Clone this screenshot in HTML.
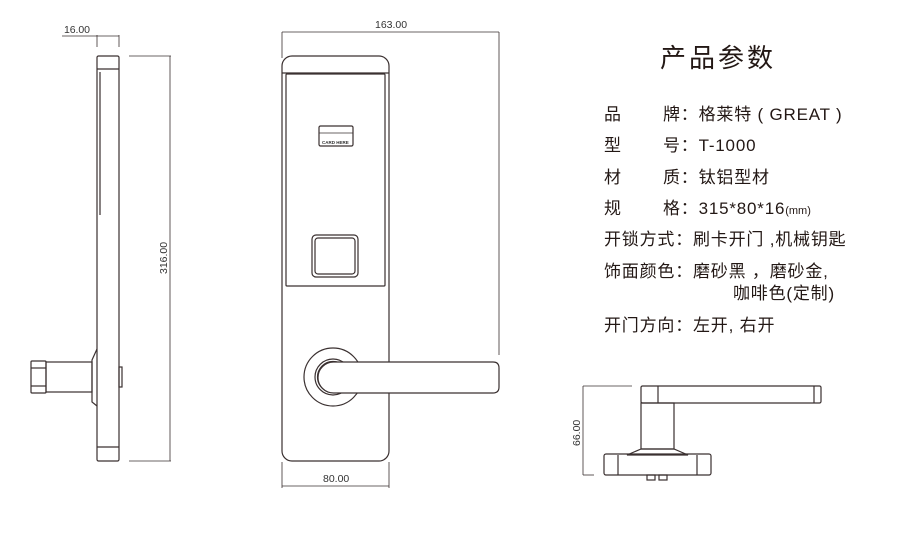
<!DOCTYPE html>
<html><head><meta charset="utf-8"><style>
html,body{margin:0;padding:0;background:#fff;}
.wrap{position:relative;width:900px;height:544px;overflow:hidden;}
svg{position:absolute;left:0;top:0;}
.t{position:absolute;font-family:"Liberation Sans","Noto Sans CJK SC",sans-serif;color:#231815;white-space:nowrap;}
.r{font-size:17px;line-height:20px;letter-spacing:0.8px;}
</style></head><body><div class="wrap">
<svg width="900" height="544" viewBox="0 0 900 544" fill="none" stroke="#3a3030" stroke-width="1.2">
<g>
<line x1="62" y1="36" x2="119" y2="36" stroke-width="0.8"/>
<line x1="97" y1="35" x2="97" y2="47" stroke-width="0.8"/>
<line x1="119" y1="35" x2="119" y2="47" stroke-width="0.8"/>
<text x="64" y="33" font-family="Liberation Sans" font-size="10.5" fill="#333" stroke="none" textLength="26">16.00</text>
<rect x="97" y="56" width="22" height="405" rx="1.5"/>
<line x1="97" y1="69" x2="119" y2="69"/>
<line x1="97" y1="447" x2="119" y2="447"/>
<line x1="100" y1="72" x2="100" y2="215"/>
<line x1="129" y1="56" x2="171" y2="56" stroke-width="0.8"/>
<line x1="129" y1="461" x2="171" y2="461" stroke-width="0.8"/>
<line x1="170" y1="56" x2="170" y2="461" stroke-width="0.8"/>
<text transform="translate(167,274) rotate(-90)" font-family="Liberation Sans" font-size="10.5" fill="#333" stroke="none">316.00</text>
<path d="M97 349 L92 360 L92 402 L97 406"/>
<rect x="46" y="362" width="46" height="30"/>
<rect x="31" y="361" width="15" height="32" rx="1"/>
<line x1="31" y1="368" x2="46" y2="368"/>
<line x1="31" y1="386" x2="46" y2="386"/>
<rect x="119" y="367" width="3" height="20"/>
</g>
<g>
<line x1="282" y1="32" x2="499" y2="32" stroke-width="0.8"/>
<line x1="282" y1="32" x2="282" y2="58" stroke-width="0.8"/>
<line x1="499" y1="32" x2="499" y2="355" stroke-width="0.8"/>
<text x="375" y="28" font-family="Liberation Sans" font-size="10.5" fill="#333" stroke="none">163.00</text>
<rect x="282" y="56" width="107" height="405" rx="10"/>
<line x1="282" y1="73" x2="389" y2="73"/>
<rect x="286" y="74" width="99" height="212" rx="1"/>
<rect x="319" y="126" width="34" height="20" rx="1.5"/>
<line x1="319" y1="133" x2="353" y2="133" stroke-width="0.8"/>
<text x="322" y="144" font-family="Liberation Sans" font-size="4.5" font-weight="bold" fill="#333" stroke="none">CARD HERE</text>
<rect x="312" y="235" width="46" height="42" rx="4"/>
<rect x="315" y="238" width="40" height="36" rx="3"/>
<circle cx="333" cy="377" r="29"/>
<circle cx="333" cy="377" r="18"/>
<circle cx="333" cy="377" r="15.5"/>
<path d="M333.5 362 L493 362 Q499 362 499 368 L499 387 Q499 393 493 393 L333.5 393 A15.5 15.5 0 0 1 333.5 362 Z" fill="#fff"/>
<line x1="282" y1="486" x2="389" y2="486" stroke-width="0.8"/>
<line x1="282" y1="462" x2="282" y2="488" stroke-width="0.8"/>
<line x1="389" y1="462" x2="389" y2="488" stroke-width="0.8"/>
<text x="323" y="482" font-family="Liberation Sans" font-size="10.5" fill="#333" stroke="none">80.00</text>
</g>
<g>
<line x1="583" y1="386" x2="583" y2="475" stroke-width="0.8"/>
<line x1="583" y1="386" x2="632" y2="386" stroke-width="0.8"/>
<line x1="583" y1="475" x2="594" y2="475" stroke-width="0.8"/>
<text transform="translate(580,446) rotate(-90)" font-family="Liberation Sans" font-size="10.5" fill="#333" stroke="none">66.00</text>
<rect x="641" y="386" width="180" height="17" rx="1.5"/>
<line x1="658" y1="386" x2="658" y2="403"/>
<line x1="814" y1="386" x2="814" y2="403"/>
<rect x="641" y="403" width="33" height="46"/>
<path d="M641 449 L627 455 L688 455 L674 449 Z"/>
<rect x="604" y="454" width="107" height="21" rx="2"/>
<line x1="618" y1="455" x2="618" y2="475"/>
<line x1="697" y1="455" x2="697" y2="475"/>
<rect x="647" y="475" width="8" height="5"/>
<rect x="659" y="475" width="8" height="5"/>
</g>
</svg>
<div class="t" style="left:660px;top:38px;font-size:26px;letter-spacing:3px;">产品参数</div>
<div class="t r" style="left:604px;top:105px;">品</div><div class="t r" style="left:663px;top:105px;">牌：格莱特 ( GREAT )</div>
<div class="t r" style="left:604px;top:136px;">型</div><div class="t r" style="left:663px;top:136px;">号：T-1000</div>
<div class="t r" style="left:604px;top:168px;">材</div><div class="t r" style="left:663px;top:168px;">质：钛铝型材</div>
<div class="t r" style="left:604px;top:199px;">规</div><div class="t r" style="left:663px;top:199px;">格：315*80*16<span style="font-size:11px;letter-spacing:0">(mm)</span></div>
<div class="t r" style="left:604px;top:230px;">开锁方式：刷卡开门 ,机械钥匙</div>
<div class="t r" style="left:604px;top:262px;">饰面颜色：磨砂黑 ，磨砂金,</div>
<div class="t r" style="left:733px;top:284px;">咖啡色(定制)</div>
<div class="t r" style="left:604px;top:316px;">开门方向：左开, 右开</div>
</div></body></html>
